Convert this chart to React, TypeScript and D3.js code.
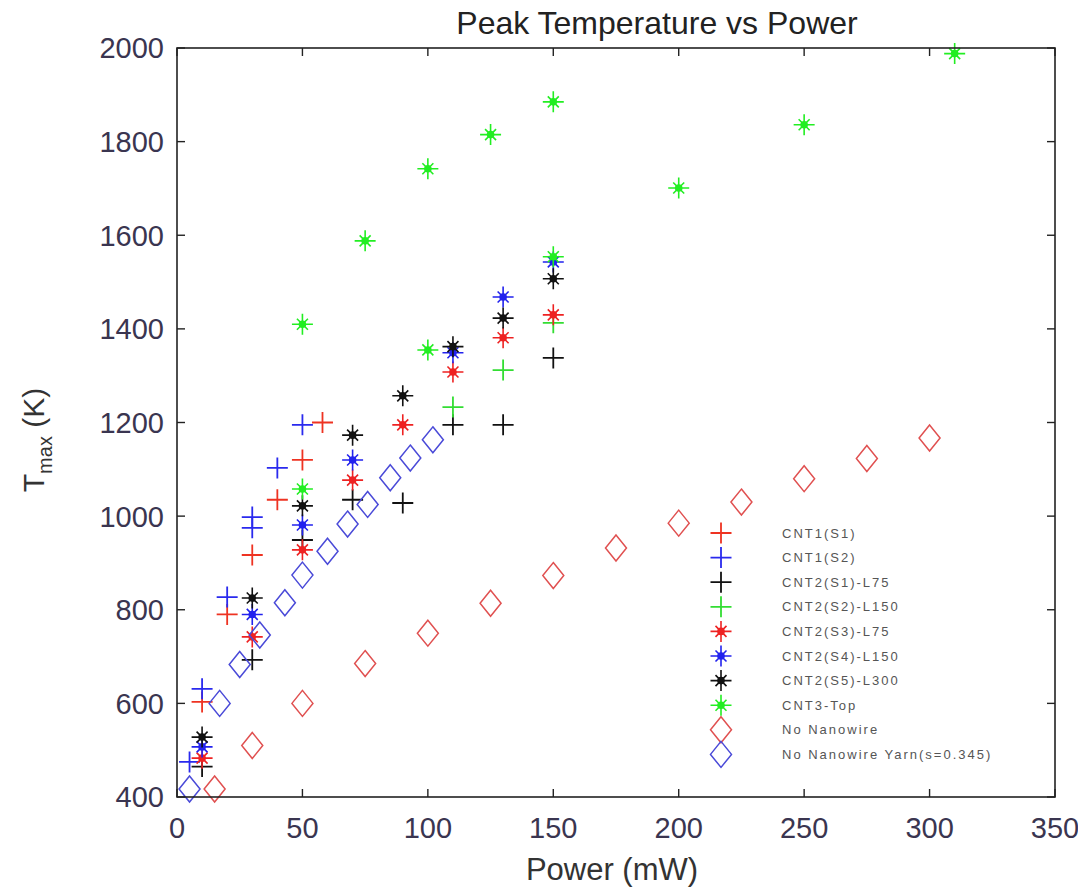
import React from "react";
import * as d3 from "d3";

const powerTicks = [0, 50, 100, 150, 200, 250, 300, 350];
const tempTicks = [400, 600, 800, 1000, 1200, 1400, 1600, 1800, 2000];

const cnt1S1: [number, number][] = [[10, 603], [20, 790], [30, 917], [40, 1035], [50, 1120], [58, 1200]];
const cnt1S2: [number, number][] = [[5, 475], [10, 631], [20, 827], [30, 975], [30, 998], [40, 1103], [50, 1195]];
const cnt2S1L75: [number, number][] = [[10, 465], [30, 693], [50, 949], [70, 1035], [90, 1028], [110, 1195], [130, 1195], [150, 1338]];
const cnt2S2L150: [number, number][] = [[110, 1233], [130, 1312], [150, 1413]];
const cnt2S3L75: [number, number][] = [[10, 483], [30, 742], [50, 928], [70, 1077], [90, 1195], [110, 1308], [130, 1381], [150, 1430]];
const cnt2S4L150: [number, number][] = [[10, 507], [30, 790], [50, 981], [70, 1120], [110, 1349], [130, 1468], [150, 1543]];
const cnt2S5L300: [number, number][] = [[10, 528], [30, 825], [50, 1022], [70, 1173], [90, 1257], [110, 1362], [130, 1423], [150, 1507]];
const cnt3Top: [number, number][] = [[50, 1058], [50, 1410], [75, 1588], [100, 1355], [100, 1742], [125, 1815], [150, 1554], [150, 1885], [200, 1701], [250, 1836], [310, 1988]];
const noNanowire: [number, number][] = [[15, 417], [30, 510], [50, 600], [75, 685], [100, 750], [125, 814], [150, 873], [175, 932], [200, 985], [225, 1030], [250, 1080], [275, 1123], [300, 1167]];
const noNanowireYarn: [number, number][] = [[5, 417], [17, 600], [25, 683], [33, 746], [43, 815], [50, 874], [60, 925], [68, 983], [76, 1025], [85, 1082], [93, 1124], [102, 1163]];

type Shape = "plus" | "star" | "diamond";
const seriesList: { name: string; data: [number, number][]; shape: Shape; color: string }[] = [
  { name: "CNT1(S1)", data: cnt1S1, shape: "plus", color: "#ee3322" },
  { name: "CNT1(S2)", data: cnt1S2, shape: "plus", color: "#2a2aee" },
  { name: "CNT2(S1)-L75", data: cnt2S1L75, shape: "plus", color: "#111111" },
  { name: "CNT2(S2)-L150", data: cnt2S2L150, shape: "plus", color: "#33dd33" },
  { name: "CNT2(S3)-L75", data: cnt2S3L75, shape: "star", color: "#ee2222" },
  { name: "CNT2(S4)-L150", data: cnt2S4L150, shape: "star", color: "#2222ee" },
  { name: "CNT2(S5)-L300", data: cnt2S5L300, shape: "star", color: "#111111" },
  { name: "CNT3-Top", data: cnt3Top, shape: "star", color: "#22ee22" },
  { name: "No Nanowire", data: noNanowire, shape: "diamond", color: "#e05050" },
  { name: "No Nanowire Yarn(s=0.345)", data: noNanowireYarn, shape: "diamond", color: "#4a4ad8" },
];

const W = 1078, H = 889;
const left = 177, right = 1055, top = 48, bottom = 797;

function Marker({ shape, color, x, y }: { shape: Shape; color: string; x: number; y: number }) {
  if (shape === "plus") {
    const h = 10.5;
    return <path d={`M${x - h},${y}H${x + h}M${x},${y - h}V${y + h}`} stroke={color} strokeWidth={1.8} fill="none" />;
  }
  if (shape === "star") {
    const h = 10.5, d = 5.5;
    return (
      <g>
        <path
          d={`M${x - h},${y}H${x + h}M${x},${y - h}V${y + h}M${x - d},${y - d}L${x + d},${y + d}M${x - d},${y + d}L${x + d},${y - d}`}
          stroke={color}
          strokeWidth={1.6}
          fill="none"
        />
        <circle cx={x} cy={y} r={3.8} fill={color} />
      </g>
    );
  }
  const hw = 10.5, hh = 13;
  return <path d={`M${x},${y - hh}L${x + hw},${y}L${x},${y + hh}L${x - hw},${y}Z`} stroke={color} strokeWidth={1.5} fill="none" />;
}

export default function App() {
  const x = d3.scaleLinear().domain([0, 350]).range([left, right]);
  const y = d3.scaleLinear().domain([400, 2000]).range([bottom, top]);
  const tickLen = 8;
  const axisColor = "#222";
  const tickFont = "Liberation Sans, Arial, sans-serif";
  const legendX = 721, legendTextX = 782, legendY0 = 533, legendDy = 24.6;

  return (
    <svg width={W} height={H} style={{ position: "absolute", left: 0, top: 0, background: "#fff" }} fontFamily={tickFont}>
      <rect x={0} y={0} width={W} height={H} fill="#fff" />
      {seriesList.map((s) => (
        <g key={s.name}>
          {s.data.map((d, i) => (
            <Marker key={i} shape={s.shape} color={s.color} x={x(d[0])} y={y(d[1])} />
          ))}
        </g>
      ))}
      <rect x={left} y={top} width={right - left} height={bottom - top} fill="none" stroke={axisColor} strokeWidth={1.6} />
      {powerTicks.map((t) => (
        <g key={"xt" + t}>
          <line x1={x(t)} x2={x(t)} y1={bottom} y2={bottom - tickLen} stroke={axisColor} strokeWidth={1.4} />
          <line x1={x(t)} x2={x(t)} y1={top} y2={top + tickLen} stroke={axisColor} strokeWidth={1.4} />
          <text x={x(t)} y={838} textAnchor="middle" fontSize={29} fill="#3a3550">{t}</text>
        </g>
      ))}
      {tempTicks.map((t) => (
        <g key={"yt" + t}>
          <line x1={left} x2={left + tickLen} y1={y(t)} y2={y(t)} stroke={axisColor} strokeWidth={1.4} />
          <line x1={right} x2={right - tickLen} y1={y(t)} y2={y(t)} stroke={axisColor} strokeWidth={1.4} />
          <text x={164} y={y(t)} dy="0.36em" textAnchor="end" fontSize={29} fill="#3a3550">{t}</text>
        </g>
      ))}
      <text x={657} y={34} textAnchor="middle" fontSize={32} fill="#222">Peak Temperature vs Power</text>
      <text x={612} y={880} textAnchor="middle" fontSize={31} fill="#333">Power (mW)</text>
      <g transform="translate(44,440) rotate(-90)">
        <text textAnchor="middle" fontSize={30} fill="#333">
          T<tspan fontSize={20} dy={8}>max</tspan><tspan dy={-8}> (K)</tspan>
        </text>
      </g>
      {seriesList.map((s, i) => (
        <g key={"lg" + s.name}>
          <Marker shape={s.shape} color={s.color} x={legendX} y={legendY0 + i * legendDy} />
          <text x={legendTextX} y={legendY0 + i * legendDy} dy="0.35em" fontSize={13} letterSpacing={2} fill="#555">{s.name}</text>
        </g>
      ))}
    </svg>
  );
}
